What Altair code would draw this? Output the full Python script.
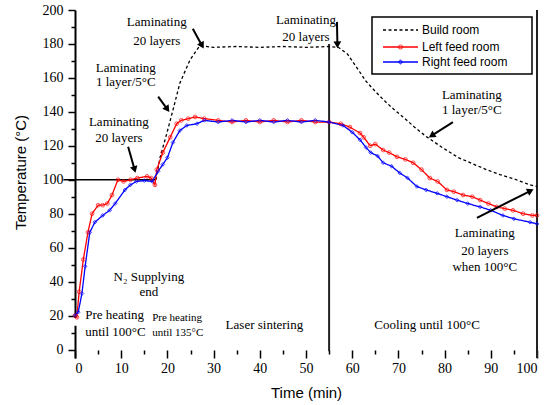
import math
import altair as alt
import pandas as pd

# ---------------- data ----------------
left_x = [0, 0.4, 0.9, 1.8, 2.8, 3.7, 5, 6, 7, 8, 9.3, 10.5, 12, 13.5, 15.6, 16.5, 17.3, 17.7,
          19, 20.6, 22, 23, 24.5, 26, 28, 31, 34, 37, 40, 43, 46, 49, 52, 55, 57.5, 59.5,
          61.7, 62.5, 63.9, 65, 66.7, 68, 69.7, 71.5, 73.2, 75, 76.8, 78.5, 80.5, 82, 84,
          86, 87.7, 89.5, 91.3, 93, 94.8, 97, 99, 100]
left_y = [20, 19, 34, 53, 69, 80, 85, 85, 86, 91, 100, 99, 100, 101, 102, 101, 97, 106,
          116, 125, 133, 135, 136, 137, 136, 135, 134, 135, 134, 135, 134, 135, 134, 134, 133, 131,
          127.5, 125, 120, 121, 117.5, 116, 113.5, 112, 110, 106, 101, 99, 94, 93, 91,
          90, 88, 86, 84, 83, 82, 80, 79, 79]

right_x = [0, 0.7, 1.5, 2.2, 3.2, 4.3, 6, 7.5, 8.7, 10.8, 12, 13.3, 15, 16.7, 18, 19, 20,
           21.2, 22.7, 24.2, 26.4, 28, 31, 34, 37, 40, 43, 46, 49, 52, 55, 58, 60, 61.7,
           63, 64, 65.5, 66.7, 68.5, 70.3, 72, 74, 76, 78.4, 80.5, 82.7, 85, 87.7, 90,
           92.6, 95, 98.5, 100]
right_y = [20, 22, 33, 49, 69, 75, 79, 82, 86, 94, 97, 99, 99.5, 99, 105, 109, 113,
           122, 129, 132, 133, 135, 134, 135, 134, 135, 134, 135, 134, 135, 134, 132, 128, 123.5,
           119, 116, 114, 110, 108, 104, 101, 96, 94, 92, 90, 88, 86, 84, 82,
           79, 77, 75, 74]

build_x = [17.5, 18.4, 19.9, 21.2, 22.7, 24.9, 27, 30, 35, 40, 45, 50, 55, 57, 59, 61, 63,
           65, 67, 69, 71, 73.5, 76, 79.5, 83, 86, 89, 92, 95, 98.5, 100]
build_y = [100, 113, 127.6, 141, 157, 170.6, 179, 178, 178.5, 178, 178.5, 178, 178.5, 178,
           174, 166, 158, 152, 146.5, 141.5, 137, 131, 125.5, 119, 113, 109.5, 106, 103,
           100.5, 97, 96]

series_names = ["Build room", "Left feed room", "Right feed room"]
series_colors = ["black", "red", "blue"]
series_dash = [[3, 2.5], [1, 0], [1, 0]]
series_shapes = [None, "circle", "diamond"]

# preheat level line and section dividers
preheat_x = [-2.5, 17.5]
preheat_y = [100, 100]
divider_x = [55, 100]
divider_top = [180, 200]
divider_bottom = [-1, -5]

# annotation texts (centre positions in data units)
ann_text = ["Laminating", "20 layers",
            "Laminating", "1 layer/5°C",
            "Laminating", "20 layers",
            "Laminating", "20 layers",
            "Laminating", "1 layer/5°C",
            "Laminating", "20 layers", "when 100°C",
            "N\u2082 Supplying", "end",
            "Laser sintering", "Cooling until 100°C"]
ann_x = [17.7, 17.7, 11, 11, 9.5, 9.5, 50, 50, 85.9, 85.9, 88.7, 88.7, 88.7,
         16, 16, 41, 76.2]
ann_y = [193, 182, 166, 157.6, 134, 124.7, 194, 184, 150, 141, 68.8, 58, 48.8,
         42.9, 34, 14.7, 14.7]

pre_text = ["Pre heating", "until 100°C", "Pre heating", "until 135°C"]
pre_x = [2.2, 2.2, 16.7, 16.7]
pre_y = [20.6, 10.6, 18.8, 9.8]
pre_group = ["a", "a", "b", "b"]

# arrows: tail -> head
arrow_tx = [25.5, 18, 11.5, 56.7, 81.8, 87]
arrow_ty = [189, 149, 119.4, 193, 134, 77.6]
arrow_hx = [27.5, 20.0, 12.9, 56.8, 77.2, 98.6]
arrow_hy = [179, 141.5, 106, 179.5, 126, 93.5]

# ---------------- layout ----------------
W, H = 462, 348
XMIN, XMAX = 0, 100
YMIN, YMAX = -5, 200
px_per_x = W / (XMAX - XMIN)
px_per_y = H / (YMAX - YMIN)

rows = []
for name, xs, ys in [("Build room", build_x, build_y),
                     ("Left feed room", left_x, left_y),
                     ("Right feed room", right_x, right_y)]:
    for i, (a, b) in enumerate(zip(xs, ys)):
        rows.append({"series": name, "t": a, "temp": b, "order": i})
df = pd.DataFrame(rows)
df_pts = df[df["series"] != "Build room"]

SERIF = "Liberation Serif"
SANS = "Liberation Sans"

x_axis = alt.Axis(
    values=list(range(0, 101, 5)),
    labelExpr="datum.value % 10 === 0 ? datum.label : ''",
    tickSize=alt.condition("datum.value % 10 === 0", alt.value(8), alt.value(4)),
    domain=False, grid=False, offset=-8, tickColor="black", tickWidth=1.5,
    labelFont=SERIF, labelFontSize=14, labelColor="black", labelPadding=3,
    title="Time (min)", titleFont=SANS, titleFontSize=15, titleFontWeight="normal",
    titleColor="black", titlePadding=10,
)
y_axis = alt.Axis(
    values=list(range(0, 201, 10)),
    labelExpr="datum.value % 20 === 0 ? datum.label : ''",
    tickSize=alt.condition("datum.value % 20 === 0", alt.value(7), alt.value(4)),
    domain=True, domainColor="black", domainWidth=2, grid=False,
    tickColor="black", tickWidth=1.5,
    labelFont=SERIF, labelFontSize=14, labelColor="black", labelPadding=5,
    title="Temperature (°C)", titleFont=SANS, titleFontSize=15, titleFontWeight="normal",
    titleColor="black", titleAngle=270, titleX=-55, titleY=162,
    titleAlign="center", titleBaseline="middle", zindex=0,
)

X = alt.X("t:Q", scale=alt.Scale(domain=[XMIN, XMAX], nice=False, zero=False), axis=x_axis)
Y = alt.Y("temp:Q", scale=alt.Scale(domain=[YMIN, YMAX], nice=False, zero=False), axis=y_axis)

color_enc = alt.Color("series:N", scale=alt.Scale(domain=series_names, range=series_colors),
                      legend=None)
dash_enc = alt.StrokeDash("series:N", scale=alt.Scale(domain=series_names, range=series_dash),
                          legend=None)

lines = alt.Chart(df).mark_line(strokeWidth=1.3, clip=False).encode(
    x=X, y=Y, color=color_enc, strokeDash=dash_enc, order="order:Q", detail="series:N"
)
pts = alt.Chart(df_pts).mark_point(filled=False, size=14, strokeWidth=1).encode(
    x=X, y=Y, color=color_enc,
    shape=alt.Shape("series:N", scale=alt.Scale(domain=["Left feed room", "Right feed room"],
                                                 range=["circle", "diamond"]), legend=None),
)

# preheat level line
pre_df = pd.DataFrame({"t": preheat_x, "temp": preheat_y})
preline = alt.Chart(pre_df).mark_line(color="black", strokeWidth=1.5, clip=False).encode(x=X, y=Y)

# vertical dividers
div_df = pd.DataFrame({"t": divider_x, "temp": divider_top, "temp2": divider_bottom})
dividers = alt.Chart(div_df).mark_rule(color="#222", strokeWidth=2, clip=False).encode(
    x=X, y=Y, y2="temp2:Q"
)

# axis break
brk_df = pd.DataFrame({"temp": [14], "temp2": [18.6]})
axis_break = alt.Chart(brk_df).mark_rect(color="white", clip=False).encode(
    x=alt.value(-5), x2=alt.value(5), y=Y, y2="temp2:Q"
)

# annotations
ann_df = pd.DataFrame({"t": ann_x, "temp": ann_y, "label": ann_text})
ann = alt.Chart(ann_df).mark_text(font=SERIF, fontSize=13, color="black", align="center",
                                  baseline="middle").encode(x=X, y=Y, text="label:N")

pre_df2 = pd.DataFrame({"t": pre_x, "temp": pre_y, "label": pre_text, "g": pre_group})
pre_a = alt.Chart(pre_df2[pre_df2["g"] == "a"]).mark_text(
    font=SERIF, fontSize=13, color="black", align="left", baseline="middle"
).encode(x=X, y=Y, text="label:N")
pre_b = alt.Chart(pre_df2[pre_df2["g"] == "b"]).mark_text(
    font=SERIF, fontSize=11, color="black", align="left", baseline="middle"
).encode(x=X, y=Y, text="label:N")

# arrows
arr_rows = []
head_rows = []
for i, (tx, ty, hx, hy) in enumerate(zip(arrow_tx, arrow_ty, arrow_hx, arrow_hy)):
    arr_rows.append({"id": i, "t": tx, "temp": ty, "o": 0})
    arr_rows.append({"id": i, "t": hx, "temp": hy, "o": 1})
    dxp = (hx - tx) * px_per_x
    dyp = -(hy - ty) * px_per_y
    ang = math.degrees(math.atan2(dxp, -dyp)) % 360
    head_rows.append({"t": hx, "temp": hy, "ang": ang})
arr_df = pd.DataFrame(arr_rows)
head_df = pd.DataFrame(head_rows)
arrow_lines = alt.Chart(arr_df).mark_line(color="black", strokeWidth=2, clip=False).encode(
    x=X, y=Y, detail="id:N", order="o:Q"
)
arrow_heads = alt.Chart(head_df).mark_point(shape="triangle-up", filled=True, color="black",
                                             size=60, opacity=1, clip=False).encode(
    x=X, y=Y, angle=alt.Angle("ang:Q", scale=None)
)

# ---------------- hand-built legend box (pixel positions in the plot area) ----------------
LEG_X0, LEG_X1, LEG_Y0, LEG_Y1 = 297, 457, 7, 64
LEG_ROW_Y = [20, 37, 52]
SYM_X0, SYM_X1, LAB_X = 308, 343, 347
one = pd.DataFrame({"k": [0]})
legend_layers = [
    alt.Chart(one).mark_rect(fill="white", stroke="black", strokeWidth=1.5).encode(
        x=alt.value(LEG_X0), x2=alt.value(LEG_X1), y=alt.value(LEG_Y0), y2=alt.value(LEG_Y1))
]
for name, col, dash, shp, ry in zip(series_names, series_colors, series_dash, series_shapes, LEG_ROW_Y):
    legend_layers.append(
        alt.Chart(one).mark_rule(color=col, strokeWidth=1.5, strokeDash=dash).encode(
            x=alt.value(SYM_X0), x2=alt.value(SYM_X1), y=alt.value(ry)))
    if shp:
        legend_layers.append(
            alt.Chart(one).mark_point(shape=shp, filled=False, color=col, size=16, strokeWidth=1.2).encode(
                x=alt.value((SYM_X0 + SYM_X1) / 2), y=alt.value(ry)))
    legend_layers.append(
        alt.Chart(pd.DataFrame({"label": [name]})).mark_text(
            font=SANS, fontSize=12, color="black", align="left", baseline="middle").encode(
            x=alt.value(LAB_X), y=alt.value(ry), text="label:N"))

chart = alt.layer(
    axis_break, preline, dividers, lines, pts, arrow_lines, arrow_heads, ann, pre_a, pre_b,
    *legend_layers
).properties(
    width=W, height=H,
    autosize=alt.AutoSizeParams(type="none"),
    padding={"left": 75, "top": 10, "right": 13, "bottom": 47},
    background="white",
).configure_view(stroke=None)

chart.save("out.html", embed_options={"renderer": "svg", "actions": False})
